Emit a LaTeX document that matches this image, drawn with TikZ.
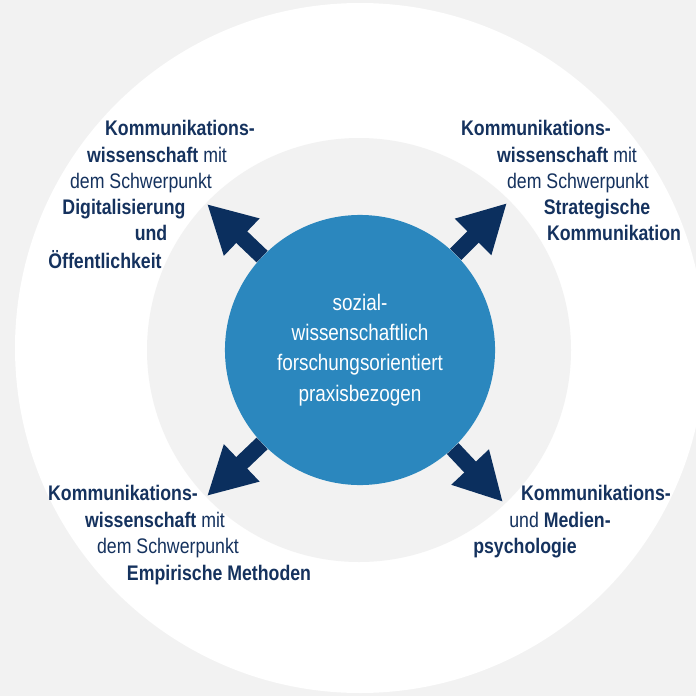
\documentclass[tikz,border=0pt]{standalone}
\usepackage{fontspec}
\setmainfont{Liberation Sans}[FakeStretch=0.84]
\usetikzlibrary{arrows.meta}
\definecolor{bggray}{HTML}{F2F2F2}
\definecolor{coreblue}{HTML}{2B87BE}
\definecolor{navy}{HTML}{0B2F5E}
\definecolor{labelnavy}{HTML}{15325E}
\begin{document}
\begin{tikzpicture}[x = 0.025cm, y = -0.025cm,
    lbl/.style = {anchor = mid, inner sep = 0pt, text = labelnavy, font = \fontsize{15}{18}\selectfont},
    core/.style = {circle, fill = coreblue, minimum size = 6.75cm, inner sep = 0pt, align = center,
        text = white, font = \fontsize{16}{21.5}\selectfont},
    spoke/.style = {navy, line width = 0.4cm, -{Triangle[length = 1.2cm, width = 1.2cm]}}]
        % rings
        \fill [bggray] (0, 0) rectangle (696, 696);
        \useasboundingbox (0, 0) rectangle (696, 696);
        \fill [white] (360, 348) circle [radius = 345];
        \fill [bggray] (359, 350) circle [radius = 212];
        % centre
        \node [core] (core) at (360, 350) {sozial-\\wissenschaftlich\\forschungsorientiert\\praxisbezogen};
        \coordinate (tipNW) at (207, 204);
        \coordinate (tipNE) at (507, 203);
        \coordinate (tipSW) at (207, 496);
        \coordinate (tipSE) at (503, 502);
        \draw [spoke] (core) -- (tipNW);
        \draw [spoke] (core) -- (tipNE);
        \draw [spoke] (core) -- (tipSW);
        \draw [spoke] (core) -- (tipSE);
        % top left
        \node [lbl] (nw1) at (180, 132) {\textbf{Kommunikations-}};
        \node [lbl] (nw2) at (157, 159) {\textbf{wissenschaft} mit};
        \node [lbl] (nw3) at (141, 185) {dem Schwerpunkt};
        \node [lbl] (nw4) at (124, 211) {\textbf{Digitalisierung}};
        \node [lbl] (nw5) at (151, 237) {\textbf{und}};
        \node [lbl] (nw6) at (105, 265) {\textbf{Öffentlichkeit}};
        % top right
        \node [lbl] (ne1) at (536, 132) {\textbf{Kommunikations-}};
        \node [lbl] (ne2) at (567, 159) {\textbf{wissenschaft} mit};
        \node [lbl] (ne3) at (578, 185) {dem Schwerpunkt};
        \node [lbl] (ne4) at (597, 211) {\textbf{Strategische}};
        \node [lbl] (ne5) at (614, 237) {\textbf{Kommunikation}};
        % bottom left
        \node [lbl] (sw1) at (123, 497) {\textbf{Kommunikations-}};
        \node [lbl] (sw2) at (155, 524) {\textbf{wissenschaft} mit};
        \node [lbl] (sw3) at (168, 550) {dem Schwerpunkt};
        \node [lbl] (sw4) at (219, 577) {\textbf{Empirische Methoden}};
        % bottom right
        \node [lbl] (se1) at (596, 497) {\textbf{Kommunikations-}};
        \node [lbl] (se2) at (560, 524) {und \textbf{Medien-}};
        \node [lbl] (se3) at (525, 550) {\textbf{psychologie}};
    \end{tikzpicture}
\end{document}
